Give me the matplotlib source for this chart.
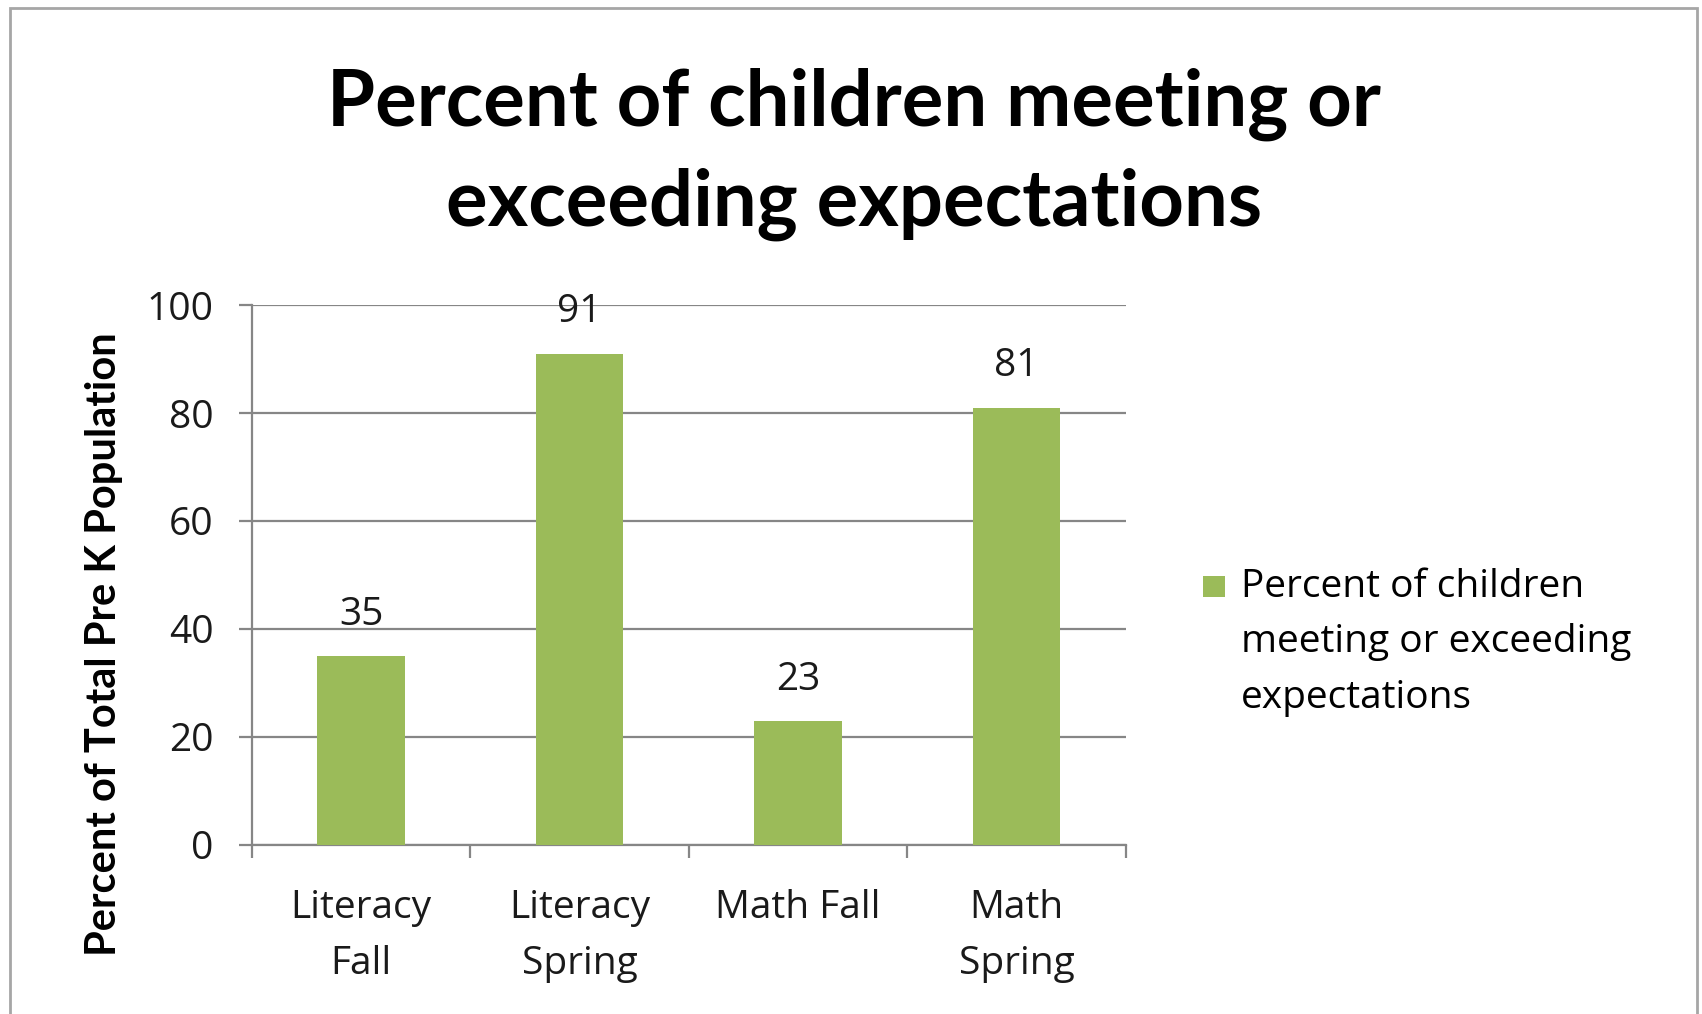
import numpy as np
import matplotlib
matplotlib.use('Agg')
import matplotlib.pyplot as plt
from matplotlib.patches import Rectangle
from matplotlib.container import BarContainer
from matplotlib.legend_handler import HandlerPatch, update_from_first_child

# data
categories = ['Literacy\nFall', 'Literacy\nSpring', 'Math Fall', 'Math\nSpring']
values = [35, 91, 23, 81]
series_name = 'Percent of children\nmeeting or exceeding\nexpectations'
title = 'Percent of children meeting or\nexceeding expectations'
y_label = 'Percent of Total Pre K Population'
y_ticks = [0, 20, 40, 60, 80, 100]

green = '#9BBB59'
grid_grey = '#868686'
txt = '#1a1a1a'
fs = 28

plt.rcParams['font.family'] = ['Open Sans', 'DejaVu Sans']

fig = plt.figure(figsize=(17.02, 10.14), dpi=100)
ax = fig.add_axes([0.148, 0.1667, 0.5135, 0.5325])

x = np.arange(len(categories))
bars = ax.bar(x, values, width=0.4, color=green, label=series_name, zorder=3)
ax.bar_label(bars, labels=[str(v) for v in values], padding=16, fontsize=fs, color=txt)

ax.set_xlim(-0.5, len(categories) - 0.5)
ax.set_ylim(0, 100)
ax.set_yticks(y_ticks)
ax.set_yticklabels([str(t) for t in y_ticks], fontsize=fs, color=txt)
ax.yaxis.grid(True, color=grid_grey, linewidth=1.6, zorder=0)
ax.set_axisbelow(True)

# category labels in the middle, tick marks on the boundaries
ax.set_xticks(x)
ax.set_xticklabels(categories, fontsize=fs, color=txt, linespacing=1.6)
ax.set_xticks(np.arange(-0.5, len(categories)), minor=True)
ax.tick_params(axis='x', which='major', length=0, pad=32)
ax.tick_params(axis='x', which='minor', length=9.5, width=1.6, color=grid_grey)
ax.tick_params(axis='y', length=9.5, width=1.6, color=grid_grey, pad=18)

for side in ['top', 'right']:
    ax.spines[side].set_visible(False)
for side in ['left', 'bottom']:
    ax.spines[side].set_color(grid_grey)
    ax.spines[side].set_linewidth(1.6)

ax.set_ylabel(y_label, fontsize=30, fontweight='bold', family=['Lato', 'DejaVu Sans'])
ax.yaxis.set_label_coords(-0.148, 0.372)

fig.text(0.502, 0.848, title, ha='center', va='center', fontsize=56,
         fontweight='bold', linespacing=1.45, family=['Lato', 'DejaVu Sans'])


# legend swatch sits next to the first line of the label
def top_square(legend, orig_handle, xdescent, ydescent, width, height, fontsize):
    s = 0.56 * fontsize
    return Rectangle((-xdescent, -ydescent + 1.48 * fontsize), s, s)


leg = ax.legend(loc='upper left', bbox_to_anchor=(1203 / 1702, 1 - 568 / 1014),
                bbox_transform=fig.transFigure, frameon=False, fontsize=fs,
                handlelength=0.56, handleheight=0.56, handletextpad=0.42,
                borderpad=0, borderaxespad=0,
                handler_map={BarContainer: HandlerPatch(patch_func=top_square,
                                                        update_func=update_from_first_child)})
for t in leg.get_texts():
    t.set_linespacing(1.6)

# chart area border (runs off the bottom of the picture)
fig.patches.append(Rectangle((10 / 1702, -0.05), 1687 / 1702, 1.05 - 8 / 1014,
                             transform=fig.transFigure, fill=False,
                             edgecolor='#A6A6A6', linewidth=2))

fig.savefig('out.png', dpi=100)
